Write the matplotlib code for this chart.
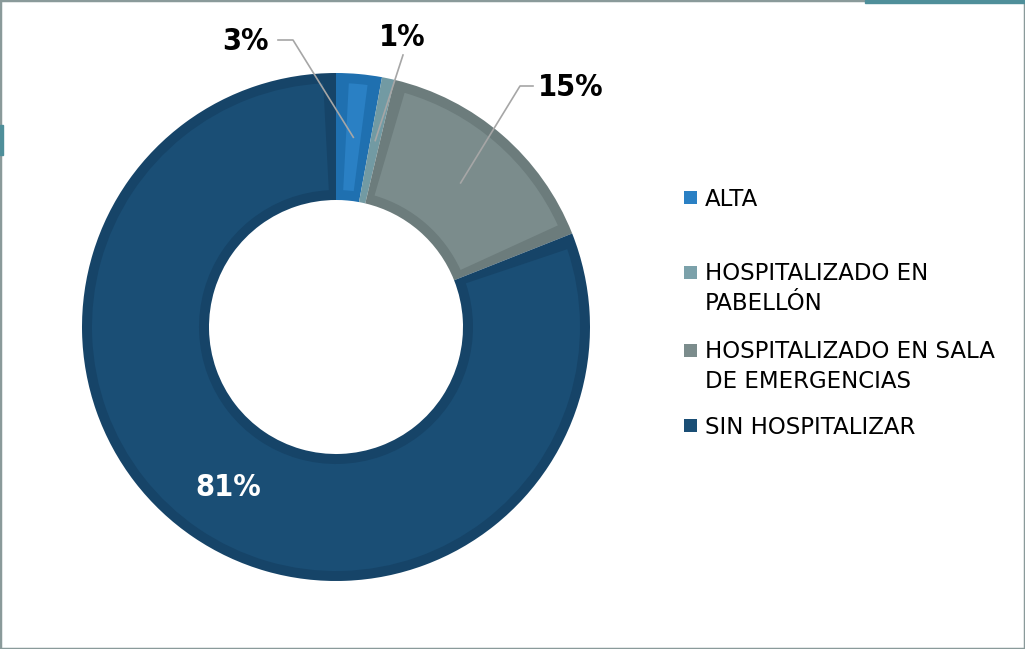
import numpy as np
import matplotlib.pyplot as plt
from matplotlib.patches import Rectangle, Wedge

categorias = ["ALTA", "HOSPITALIZADO EN\nPABELLÓN", "HOSPITALIZADO EN SALA\nDE EMERGENCIAS", "SIN HOSPITALIZAR"]
valores = [2.9, 0.8, 15.3, 81.0]
etiquetas = ["3%", "1%", "15%", "81%"]

colores = ["#2a80c4", "#7ba1aa", "#7b8c8c", "#1a4e75"]
bordes = ["#1f70b0", "#729aa3", "#6c7c7c", "#164468"]

W, H = 1025, 649
fig = plt.figure(figsize=(W / 100, H / 100), dpi=100)
ax = fig.add_axes([0, 0, 1, 1])

cx, cy, R = 336, H - 327, 254
ancho = R * 0.5
banda = 10
wedges, _ = ax.pie(valores, colors=bordes, startangle=90, counterclock=False,
                   center=(cx, cy), radius=R, wedgeprops=dict(width=ancho, lw=0), frame=True)
ax.set_xlim(0, W)
ax.set_ylim(0, H)
ax.set_aspect("equal")
ax.axis("off")

# zona interior más clara de cada sector (borde oscuro alrededor)
rmed = R - ancho / 2
for w, c in zip(wedges, colores):
    d = np.rad2deg(banda / rmed)
    t1, t2 = w.theta1 + d, w.theta2 - d
    if t2 > t1:
        ax.add_patch(Wedge((cx, cy), R - banda, t1, t2, width=ancho - 2 * banda, color=c, lw=0))

# posiciones de las etiquetas (píxeles) y codos de las líneas guía
pos_txt = [(245, H - 42), (402, H - 38), (571, H - 87), (228, H - 487)]
codos = [[(278, H - 40), (293, H - 40)], [(403, H - 55)], [(533, H - 86), (520, H - 86)], None]

for i, w in enumerate(wedges):
    ang = np.deg2rad((w.theta1 + w.theta2) / 2)
    px, py = cx + rmed * np.cos(ang), cy + rmed * np.sin(ang)
    color_txt = "white" if i == 3 else "black"
    ax.text(*pos_txt[i], etiquetas[i], ha="center", va="center", fontsize=22,
            fontweight="bold", fontstretch="condensed", color=color_txt)
    if codos[i] is not None:
        pts = codos[i] + [(px, py)]
        ax.plot([p[0] for p in pts], [p[1] for p in pts], color="#a6a6a6", lw=1.2)

# leyenda manual (marcador alineado con la primera línea)
ley_y = [197, 272, 350, 425]
for lab, c, yy in zip(categorias, colores, ley_y):
    ax.add_patch(Rectangle((684, H - yy - 6.5), 13, 13, color=c, lw=0))
    for k, linea in enumerate(lab.split("\n")):
        ax.text(705, H - yy - 8.5 - 30 * k, linea, ha="left", va="baseline", fontsize=16.5)

# marco del gráfico
fig.patches.append(Rectangle((0, 0), 1, 1, transform=fig.transFigure, fill=False,
                             edgecolor="#8a9a9a", lw=2.5))
fig.patches.append(Rectangle((865 / W, 1 - 3 / H), 160 / W, 3 / H, transform=fig.transFigure,
                             color="#4f8f9a"))
fig.patches.append(Rectangle((0, 1 - 155 / H), 3 / W, 30 / H, transform=fig.transFigure,
                             color="#4f8f9a"))

fig.savefig("out.png", dpi=100)
